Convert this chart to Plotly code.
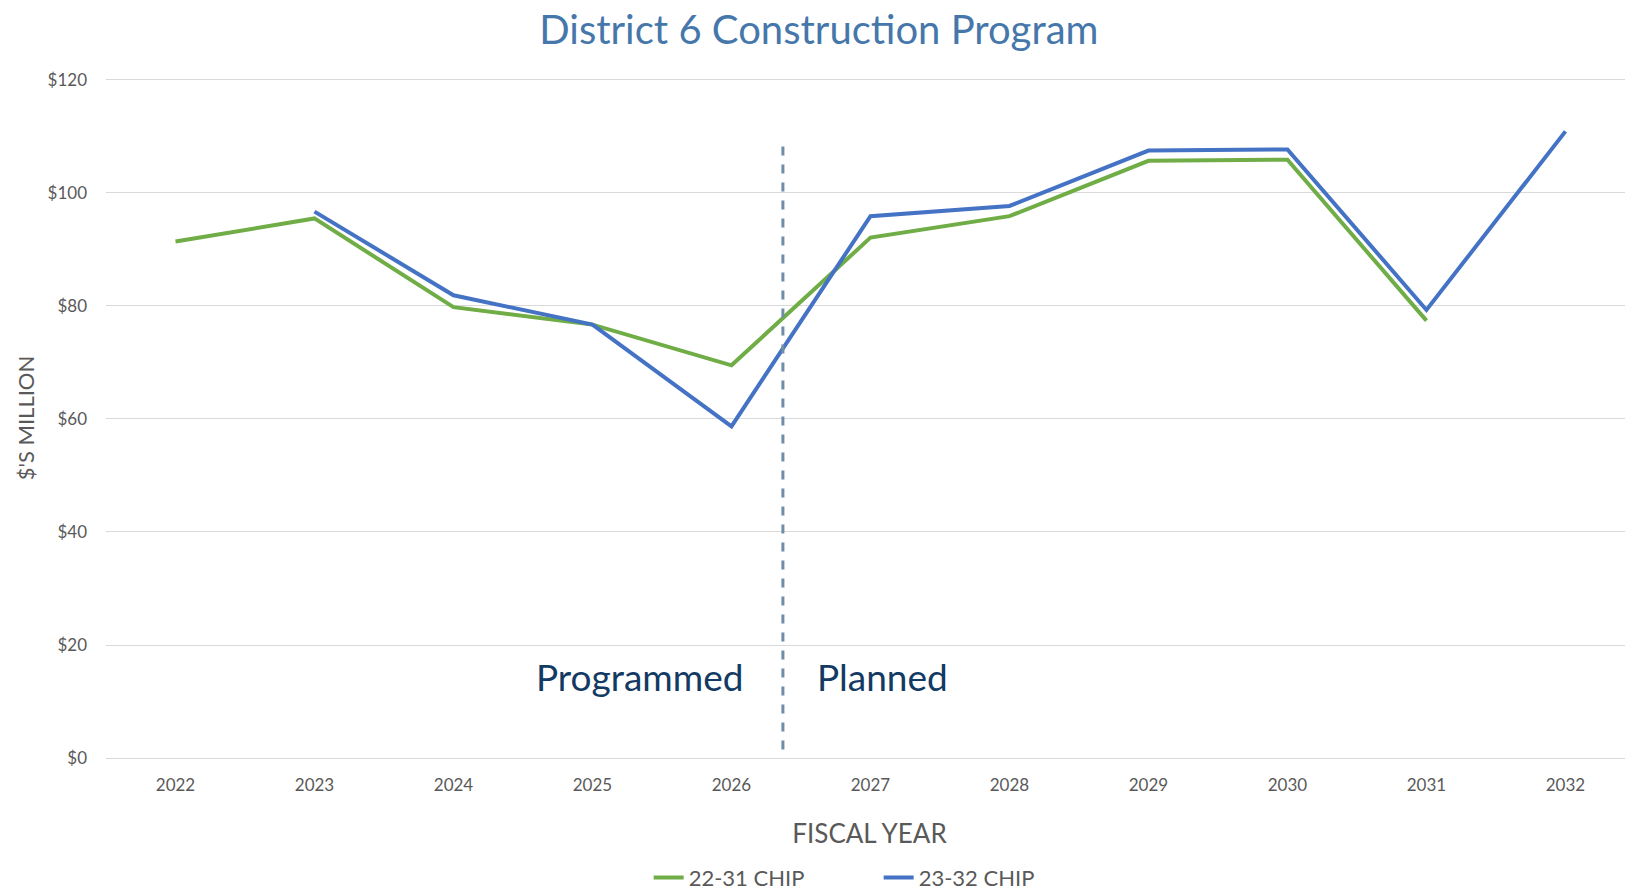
import plotly.graph_objects as go

years = [2022, 2023, 2024, 2025, 2026, 2027, 2028, 2029, 2030, 2031, 2032]
chip_22_31 = [91.4, 95.5, 79.8, 76.7, 69.5, 92.1, 95.9, 105.7, 105.9, 77.4, None]
chip_23_32 = [None, 96.7, 81.9, 76.7, 58.7, 95.9, 97.7, 107.5, 107.7, 79.3, 110.9]
y_ticks = [0, 20, 40, 60, 80, 100, 120]
y_tick_labels = ["$0", "$20", "$40", "$60", "$80", "$100", "$120"]
divider_x = 2026.37
divider_y = [1.5, 108.4]

FONT = "Lato"
fig = go.Figure()
fig.add_trace(go.Scatter(x=years, y=chip_22_31, mode="lines", name="22-31 CHIP",
                         line=dict(color="#70AD47", width=4)))
fig.add_trace(go.Scatter(x=years, y=chip_23_32, mode="lines", name="23-32 CHIP",
                         line=dict(color="#4472C4", width=4)))

fig.add_shape(type="line", xref="x", yref="y", x0=divider_x, x1=divider_x,
              y0=divider_y[0], y1=divider_y[1],
              line=dict(color="#6F8CA8", width=3, dash="dash"))

fig.add_annotation(x=2025.34, y=14.5, xref="x", yref="y", text="Programmed", showarrow=False,
                   font=dict(family=FONT, size=37, color="#133A63"))
fig.add_annotation(x=2027.09, y=14.5, xref="x", yref="y", text="Planned", showarrow=False,
                   font=dict(family=FONT, size=37, color="#133A63"))

fig.update_layout(
    width=1625, height=882,
    paper_bgcolor="white", plot_bgcolor="white",
    margin=dict(l=97.5, r=0, t=70, b=132, autoexpand=False),
    title=dict(text="District 6 Construction Program", x=0.499, xanchor="center",
               y=1 - 22 / 882, yanchor="middle",
               font=dict(family=FONT, size=40, color="#4677AB")),
    font=dict(family=FONT, color="#595959"),
    showlegend=True,
    legend=dict(orientation="h", x=0.506, xanchor="center", y=-0.176, yanchor="middle",
                font=dict(family=FONT, size=22, color="#595959"),
                entrywidth=185, entrywidthmode="pixels"),
    xaxis=dict(range=[2021.5, 2032.486], tickmode="array", tickvals=years,
               ticktext=[str(y) for y in years], showgrid=False, zeroline=False,
               showline=False, ticks="", ticklabelstandoff=15, automargin=False,
               tickfont=dict(family=FONT, size=17, color="#595959"),
               title=dict(text="FISCAL YEAR", standoff=30,
                          font=dict(family=FONT, size=26, color="#595959"))),
    yaxis=dict(range=[0, 120.35], tickmode="array", tickvals=y_ticks, ticktext=y_tick_labels,
               showgrid=True, gridcolor="#D9D9D9", gridwidth=1, zeroline=True,
               zerolinecolor="#D9D9D9", zerolinewidth=1, showline=False, ticks="",
               ticklabelstandoff=18, automargin=False,
               tickfont=dict(family=FONT, size=17, color="#595959"),
               title=dict(text="$'S MILLION", standoff=6,
                          font=dict(family=FONT, size=22, color="#595959"))),
)

fig.write_html("out.html")
